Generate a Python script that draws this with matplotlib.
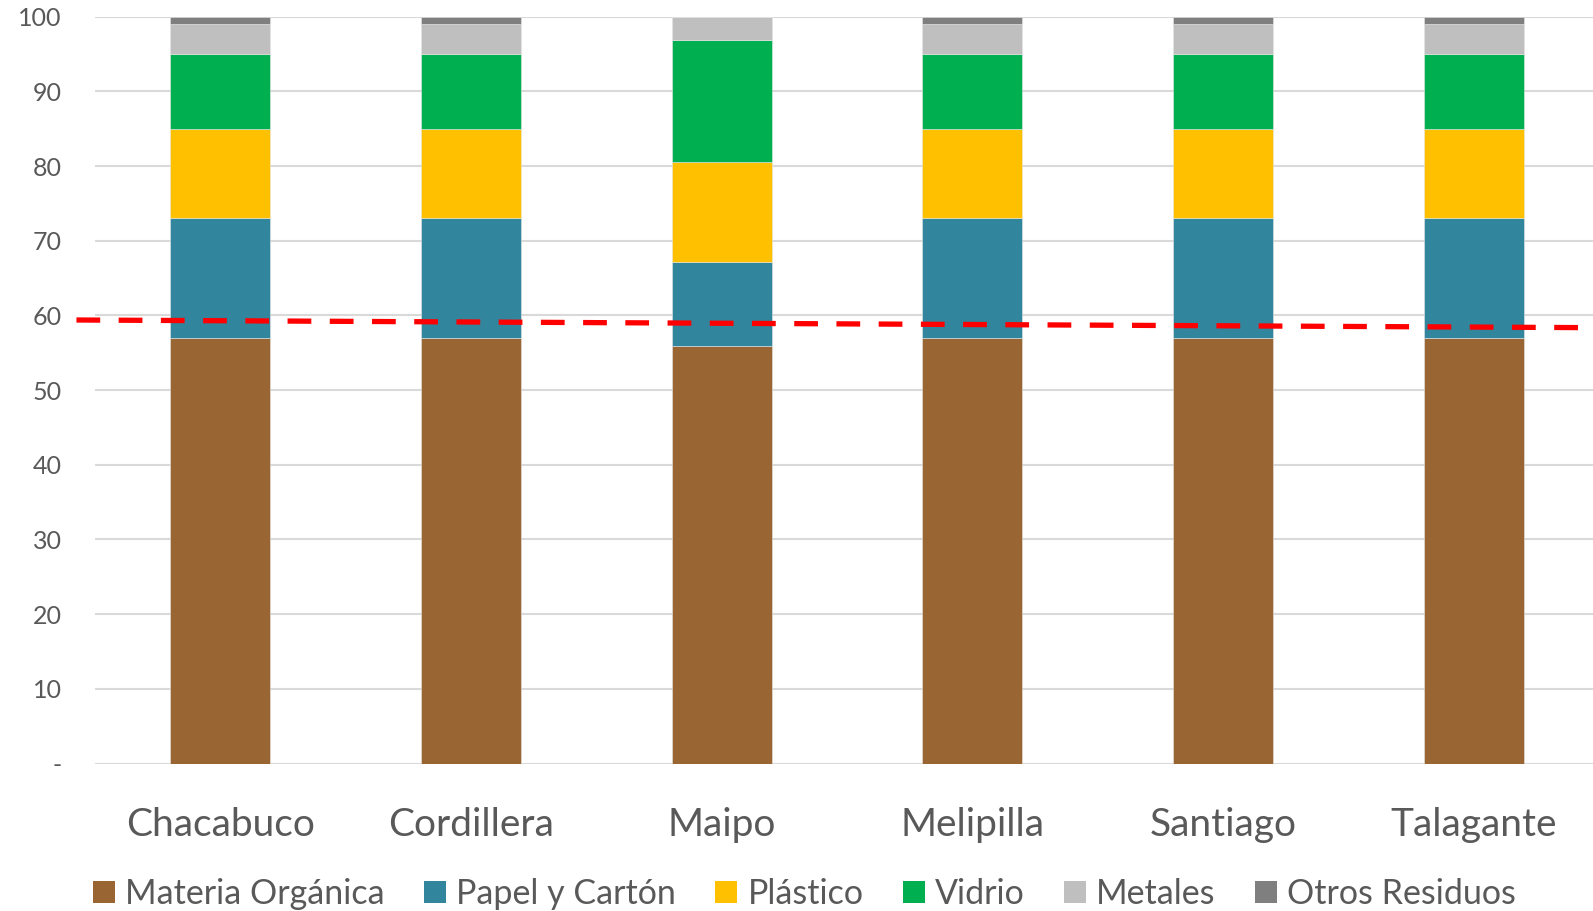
import numpy as np
import matplotlib
matplotlib.use("Agg")
from matplotlib import pyplot as plt
from matplotlib.patches import Patch

provincias = ["Chacabuco", "Cordillera", "Maipo", "Melipilla", "Santiago", "Talagante"]

organica = [57.0, 57.0, 55.9, 57.0, 57.0, 57.0]
papel = [16.0, 16.0, 11.3, 16.0, 16.0, 16.0]
plastico = [12.0, 12.0, 13.4, 12.0, 12.0, 12.0]
vidrio = [10.0, 10.0, 16.3, 10.0, 10.0, 10.0]
metales = [4.0, 4.0, 3.1, 4.0, 4.0, 4.0]
otros = [1.0, 1.0, 0.0, 1.0, 1.0, 1.0]

# red dashed reference line, read at each category
linea = [59.29, 59.12, 58.95, 58.78, 58.61, 58.44]

nombres = ["Materia Orgánica", "Papel y Cartón", "Plástico", "Vidrio", "Metales", "Otros Residuos"]
colores = ["#996633", "#31859C", "#FFC000", "#00B050", "#BFBFBF", "#7F7F7F"]

plt.rcParams['font.family'] = ['Lato', 'DejaVu Sans']
gris = "#595959"

fig = plt.figure(figsize=(15.93, 9.11), dpi=100)
ax = fig.add_axes([95 / 1593, 1 - 763.5 / 911, (1599 - 95) / 1593, (763.5 - 16.7) / 911])

x = np.arange(len(provincias))
base = np.zeros(len(provincias))
for serie, nombre, color in zip([organica, papel, plastico, vidrio, metales, otros], nombres, colores):
    ax.bar(x, serie, 0.4, bottom=base, color=color, edgecolor="#E6E6E6", linewidth=0.4, zorder=2)
    base = base + np.array(serie)

# trend line extended a little past the first category
coef = np.polyfit(x, linea, 1)
xl = np.array([-0.574, 5.5])
ax.plot(xl, np.polyval(coef, xl), color="#FF0000", lw=3.8, dashes=(4.5, 3.5), clip_on=False, zorder=3)

ax.set_xlim(-0.5, 5.5)
ax.set_ylim(0, 100)
ax.set_yticks(range(0, 101, 10))
ax.set_yticklabels(["-"] + [str(v) for v in range(10, 101, 10)])
ax.grid(axis="y", color="#D9D9D9", lw=1.5, zorder=0)
ax.set_axisbelow(True)
for s in ax.spines.values():
    s.set_visible(False)
ax.tick_params(axis="y", length=0, pad=24, labelsize=18, labelcolor=gris)
ax.tick_params(axis="x", length=0, pad=31, labelsize=28, labelcolor=gris)
ax.set_xticks(x)
ax.set_xticklabels(provincias)

handles = [Patch(facecolor=c, label=n) for n, c in zip(nombres, colores)]
leg = fig.legend(handles=handles, loc="center", bbox_to_anchor=(0.505, 1 - 894 / 911), ncol=6,
                 frameon=False, fontsize=24.5, handlelength=0.65, handleheight=0.65,
                 handletextpad=0.3, columnspacing=1.15, labelcolor=gris)

plt.savefig("out.png", dpi=100)
